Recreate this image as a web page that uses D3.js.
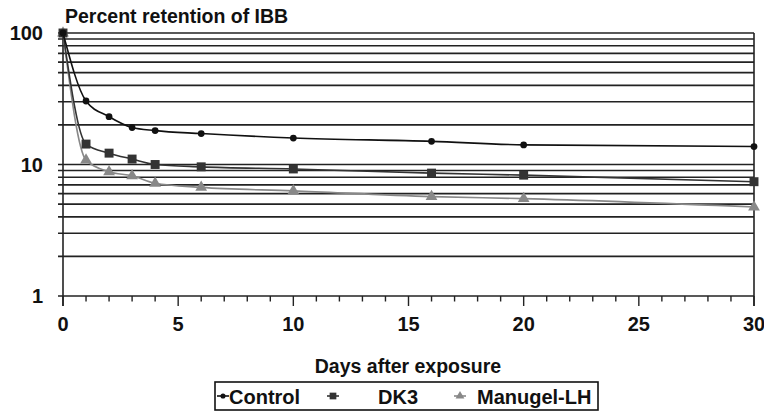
<!DOCTYPE html>
<html>
<head>
<meta charset="utf-8">
<script src="https://cdn.jsdelivr.net/npm/d3@7"></script>
<style>
  body { margin: 0; background: #fff; }
  text { font-family: "Liberation Sans", Arial, sans-serif; font-weight: bold; fill: #111; }
</style>
</head>
<body>
<div id="chart"></div>
<script>
// Data
const days = [0, 1, 2, 3, 4, 6, 10, 16, 20, 30];
const control = [100, 30.4, 23.1, 19.1, 18.1, 17.2, 15.9, 15.0, 14.1, 13.7];
const dk3 = [100, 14.3, 12.2, 11.0, 10.0, 9.6, 9.25, 8.6, 8.3, 7.4];
const manugel = [100, 10.8, 8.8, 8.2, 7.2, 6.7, 6.3, 5.7, 5.5, 4.75];
const seriesNames = ["Control", "DK3", "Manugel-LH"];
const xTicks = [0, 5, 10, 15, 20, 25, 30];
const yLabels = [1, 10, 100];

const W = 764, H = 414;
const svg = d3.select("#chart").append("svg")
  .attr("width", W).attr("height", H);

const x = d3.scaleLinear().domain([0, 30]).range([63, 754]);
const y = d3.scaleLog().domain([1, 100]).range([296, 33]);

// gridlines 1..100 (every integer step per decade)
const gridVals = [];
for (let d = 1; d < 100; d *= 10) {
  for (let k = 1; k < 10; k++) gridVals.push(d * k);
}
gridVals.push(100);

svg.append("g").selectAll("line").data(gridVals).join("line")
  .attr("x1", 58).attr("x2", x(30))
  .attr("y1", d => y(d)).attr("y2", d => y(d))
  .attr("stroke", "#222").attr("stroke-width", 1.6);

// axes frame
svg.append("line").attr("x1", x(0)).attr("x2", x(0)).attr("y1", y(100)).attr("y2", y(1) + 10)
  .attr("stroke", "#222").attr("stroke-width", 1.6);
svg.append("line").attr("x1", x(30)).attr("x2", x(30)).attr("y1", y(100)).attr("y2", y(1) + 10)
  .attr("stroke", "#222").attr("stroke-width", 1.6);

// x axis ticks every day
svg.append("g").selectAll("line").data(d3.range(0, 31)).join("line")
  .attr("x1", d => x(d)).attr("x2", d => x(d))
  .attr("y1", y(1)).attr("y2", d => y(1) + (d % 5 === 0 ? 10 : 5.5))
  .attr("stroke", "#222").attr("stroke-width", 1.4);

svg.append("g").selectAll("text").data(xTicks).join("text")
  .attr("x", d => x(d)).attr("y", 331)
  .attr("text-anchor", "middle").attr("font-size", 20)
  .text(d => d);

svg.append("g").selectAll("text").data(yLabels).join("text")
  .attr("x", 43).attr("y", d => y(d) + 7)
  .attr("text-anchor", "end").attr("font-size", 20)
  .text(d => d);

svg.append("text").attr("x", 65).attr("y", 23)
  .attr("font-size", 19.5).text("Percent retention of IBB");

svg.append("text").attr("x", 408).attr("y", 373)
  .attr("text-anchor", "middle").attr("font-size", 19.5)
  .text("Days after exposure");

// series
const series = [
  { name: seriesNames[0], values: control, color: "#111", marker: "circle" },
  { name: seriesNames[1], values: dk3, color: "#333", marker: "square" },
  { name: seriesNames[2], values: manugel, color: "#888", marker: "triangle" }
];

const line = d3.line()
  .x((d, i) => x(days[i]))
  .y(d => y(d))
  .curve(d3.curveMonotoneX);

function symbolFor(m) {
  if (m === "circle") return d3.symbol(d3.symbolCircle, 36)();
  if (m === "square") return d3.symbol(d3.symbolSquare, 80)();
  return d3.symbol(d3.symbolTriangle, 60)();
}

series.slice().reverse().forEach(s => {
  svg.append("path").datum(s.values)
    .attr("d", line).attr("fill", "none")
    .attr("stroke", s.color).attr("stroke-width", 1.6);
  svg.append("g").selectAll("path").data(s.values).join("path")
    .attr("transform", (d, i) => `translate(${x(days[i])},${y(d)})`)
    .attr("d", symbolFor(s.marker))
    .attr("fill", s.color);
});

// legend
const lg = svg.append("g");
lg.append("rect").attr("x", 215).attr("y", 382).attr("width", 383).attr("height", 28)
  .attr("fill", "#fff").attr("stroke", "#111").attr("stroke-width", 1.6);
const legendPos = [
  { mx: 223, tx: 229 },
  { mx: 333, tx: 378 },
  { mx: 460, tx: 477 }
];
series.forEach((s, i) => {
  const p = legendPos[i];
  lg.append("line").attr("x1", p.mx - 6).attr("x2", p.mx + 6)
    .attr("y1", 396).attr("y2", 396)
    .attr("stroke", s.color).attr("stroke-width", 1.6);
  lg.append("path").attr("transform", `translate(${p.mx},396) scale(0.75)`)
    .attr("d", symbolFor(s.marker)).attr("fill", s.color);
  lg.append("text").attr("x", p.tx).attr("y", 404)
    .attr("font-size", 20).text(s.name);
});
</script>
</body>
</html>
